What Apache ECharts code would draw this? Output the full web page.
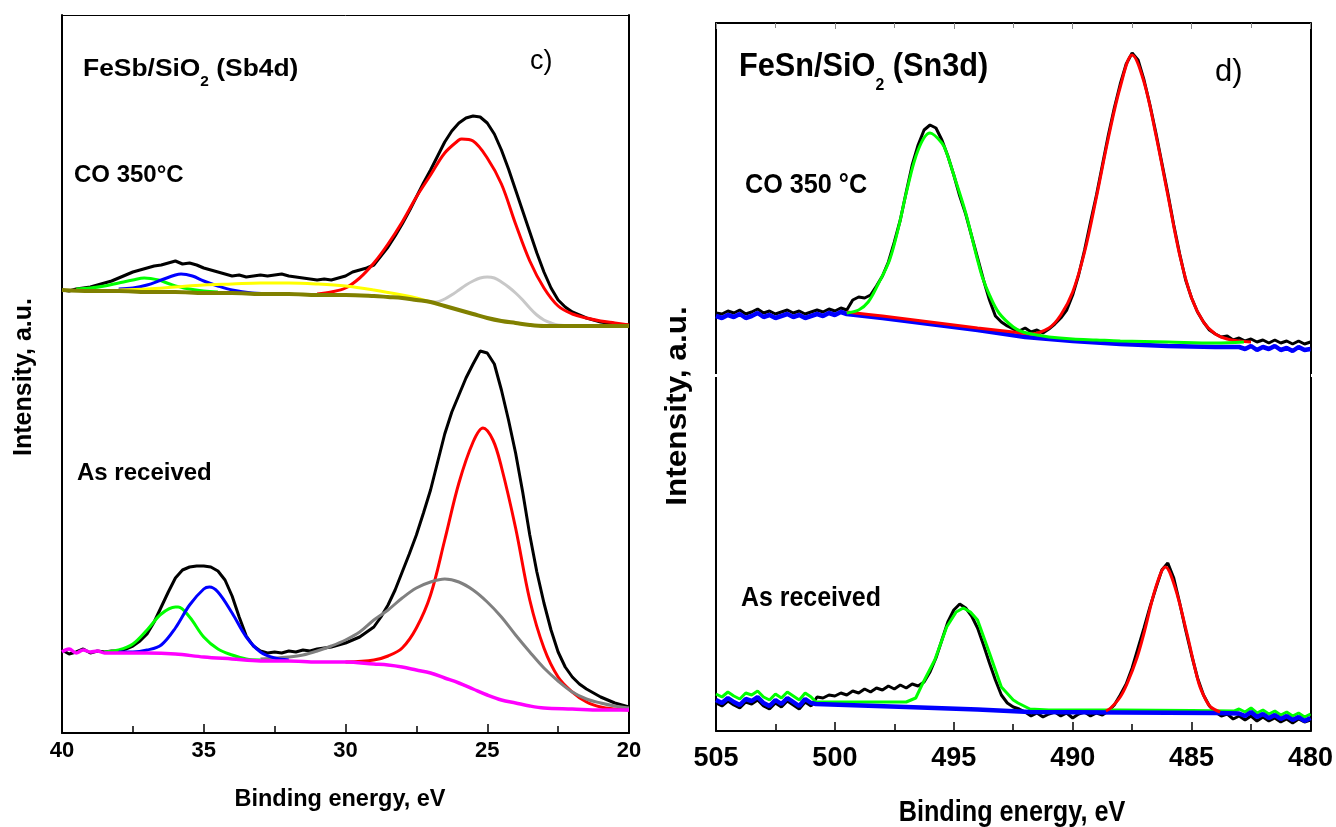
<!DOCTYPE html>
<html>
<head>
<meta charset="utf-8">
<script src="https://cdn.jsdelivr.net/npm/echarts@6/dist/echarts.min.js"></script>
<style>
html,body{margin:0;padding:0;background:#fff;}
#chart{width:1336px;height:827px;}
</style>
</head>
<body>
<div id="chart"></div>
<script>
// ---------------- Panel c) FeSb/SiO2 (Sb4d) ----------------
// [binding energy eV, intensity a.u.]
const sbTicks = [40, 35, 30, 25, 20];

// CO 350 °C
const sbCO_exp = [[40,443],[39.75,442],[39.5,444],[39.25,445],[39,446],[38.75,448],[38.5,450],[38.25,452],[38,455],[37.75,458],[37.5,461],[37.25,463],[37,465],[36.75,467],[36.5,468],[36.25,470],[36,472],[35.75,469],[35.5,470],[35.25,468],[35,465],[34.75,463],[34.5,461],[34.25,459],[34,457],[33.75,458],[33.5,456],[33.25,457],[33,458],[32.75,457],[32.5,458],[32.25,459],[32,457],[31.75,456],[31.5,455],[31.25,454],[31,453],[30.75,454],[30.5,453],[30.25,455],[30,457],[29.75,461],[29.5,463],[29.25,465],[29,468],[28.75,477],[28.5,486],[28.25,497],[28,509],[27.75,522],[27.5,536],[27.25,550],[27,563],[26.75,577],[26.5,591],[26.25,602],[26,610],[25.75,615],[25.5,617],[25.25,616],[25,610],[24.75,599],[24.5,583],[24.25,564],[24,543],[23.75,522],[23.5,501],[23.25,480],[23,461],[22.75,445],[22.5,433],[22.25,426],[22,421],[21.75,418],[21.5,415],[21.25,413],[21,411],[20.75,410],[20.5,409],[20.25,408],[20,408]];
const sbCO_red = [[31,439],[30.5,441],[30,445],[29.5,455],[29,470],[28.5,489],[28,511],[27.5,536],[27,558],[26.5,580],[26,593],[25.9,594],[25.5,592],[25,575],[24.5,549],[24,509],[23.5,472],[23,445],[22.5,427],[22,419],[21.5,415],[21,412],[20.5,410],[20,408]];
const sbCO_gray = [[27,431],[26.8,431],[26.5,434],[26.2,439],[26,443],[25.75,448],[25.5,452],[25.25,455],[25,456],[24.75,455],[24.5,451],[24.25,446],[24,440],[23.75,433],[23.5,425],[23.25,418],[23,413],[22.75,410],[22.5,408],[22,407]];
const sbCO_yellow = [[38,443],[37,444],[36,446],[35,448],[34,449],[33,450],[32,450],[31,449],[30,447],[29,443],[28,438],[27.5,435],[27,431]];
const sbCO_green = [[39.5,444],[39,445],[38.5,447],[38,450],[37.5,453],[37.1,455],[36.6,453],[36.2,449],[35.7,445],[35,442],[34.5,441]];
const sbCO_blue = [[38,444],[37.5,445],[37,448],[36.5,453],[36,458],[35.8,459],[35.4,457],[35,452],[34.5,447],[34,443],[33.3,440],[32.5,439]];
const sbCO_base = [[40,443],[39,442],[38,442],[37,441],[36,441],[35,440],[34,440],[33,439],[32,439],[31,438],[30,438],[29,437],[28.5,436],[28,435],[27.5,433],[27,431],[26.5,427],[26,423],[25.5,419],[25,415],[24.5,412],[24,410],[23.5,408],[23,407],[22,407],[21,407],[20,407]];

// As received
const sbAR_exp = [[40,83],[39.75,79],[39.5,81],[39.25,84],[39,80],[38.75,82],[38.5,81],[38.25,82],[38,82],[37.75,84],[37.5,87],[37.25,92],[37,99],[36.75,111],[36.5,126],[36.25,141],[36,155],[35.75,163],[35.5,166],[35.25,167],[35,167],[34.75,166],[34.5,162],[34.25,153],[34,137],[33.75,116],[33.5,97],[33.25,87],[33,82],[32.75,80],[32.5,81],[32.25,80],[32,82],[31.75,81],[31.5,83],[31.25,82],[31,84],[30.75,85],[30.5,86],[30.25,88],[30,90],[29.75,93],[29.5,96],[29.25,101],[29,106],[28.75,116],[28.5,128],[28.25,143],[28,161],[27.75,179],[27.5,198],[27.25,220],[27,243],[26.75,271],[26.5,299],[26.25,321],[26,338],[25.75,355],[25.5,369],[25.25,382],[25,380],[24.75,369],[24.5,343],[24.25,313],[24,280],[23.75,241],[23.5,198],[23.25,161],[23,130],[22.75,103],[22.5,81],[22.25,66],[22,56],[21.75,49],[21.5,44],[21.25,40],[21,36],[20.75,33],[20.5,30],[20.25,28],[20,26]];
const sbAR_red = [[30,71],[29,73],[28.5,77],[28,85],[27.5,105],[27,138],[26.5,193],[26,250],[25.5,291],[25.15,305],[24.8,293],[24.5,266],[24,205],[23.5,133],[23,85],[22.5,56],[22,41],[21.5,31],[21,26],[20.5,24],[20,23]];
const sbAR_gray = [[33,74],[32.5,75],[32,76],[31.5,78],[31,82],[30.5,87],[30,93],[29.5,101],[29,113],[28.5,123],[28,135],[27.5,145],[27,151],[26.5,154],[26,151],[25.5,143],[25,131],[24.5,116],[24,98],[23.5,81],[23,65],[22.5,52],[22,41],[21.5,34],[21,30],[20.5,27],[20,25]];
const sbAR_green = [[38.5,81],[38,83],[37.5,89],[37,103],[36.5,119],[36,126],[35.9,126],[35.5,116],[35,96],[34.5,84],[34,78],[33.5,74],[33,73]];
const sbAR_blue = [[38,81],[37.5,81],[37,83],[36.5,88],[36,105],[35.5,128],[35,144],[34.8,146],[34.5,141],[34,120],[33.5,96],[33,81],[32.5,75],[32,73]];
const sbAR_base = [[40,81],[39.75,84],[39.5,80],[39.25,83],[39,81],[38.75,82],[38.5,80],[38,80],[37,80],[36,79],[35,76],[34,74],[33,72],[32,72],[31,71],[30,71],[29,69],[28.5,68],[28,66],[27.5,63],[27,60],[26.5,55],[26,50],[25.5,44],[25,38],[24.5,33],[24,30],[23.5,27],[23,25],[22,24],[21,23],[20,23]];

// ---------------- Panel d) FeSn/SiO2 (Sn3d) ----------------
const snTicks = [505, 500, 495, 490, 485, 480];

// CO 350 °C
const snCO_exp = [[505,418],[504.75,417],[504.5,420],[504.25,418],[504,421],[503.75,417],[503.5,419],[503.25,422],[503,418],[502.75,420],[502.5,417],[502.25,419],[502,421],[501.75,418],[501.5,420],[501.25,417],[501,419],[500.75,421],[500.5,419],[500.25,422],[500,420],[499.75,423],[499.5,421],[499.25,431],[499,434],[498.75,433],[498.5,436],[498.25,445],[498,455],[497.75,469],[497.5,489],[497.25,511],[497,539],[496.75,566],[496.5,586],[496.25,601],[496,606],[495.75,603],[495.5,591],[495.25,575],[495,556],[494.75,535],[494.5,517],[494.25,495],[494,473],[493.75,451],[493.5,431],[493.25,415],[493,409],[492.75,405],[492.5,402],[492.25,400],[492,403],[491.75,399],[491.5,401],[491.25,398],[491,402],[490.75,407],[490.5,413],[490.25,421],[490,436],[489.75,456],[489.5,481],[489.25,509],[489,536],[488.75,566],[488.5,596],[488.25,623],[488,647],[487.75,667],[487.5,678],[487.25,671],[487,651],[486.75,626],[486.5,598],[486.25,568],[486,538],[485.75,506],[485.5,477],[485.25,451],[485,433],[484.75,419],[484.5,409],[484.25,401],[484,397],[483.75,394],[483.5,395],[483.25,391],[483,393],[482.75,390],[482.5,392],[482.25,389],[482,391],[481.75,388],[481.5,391],[481.25,388],[481,390],[480.75,387],[480.5,390],[480.25,387],[480,389]];
const snCO_red = [[499.5,419],[498,415],[496,409],[494,403],[492.5,399],[491.8,397],[491,403],[490.5,416],[490,439],[489.5,479],[489,534],[488.5,593],[488,644],[487.5,676],[487,649],[486.5,596],[486,536],[485.5,476],[485,433],[484.5,409],[484,397],[483.5,392],[483,390],[482.5,389]];
const snCO_green = [[499.5,418],[499,421],[498.6,429],[498.2,446],[497.7,471],[497.3,506],[497,538],[496.5,581],[496,598],[495.5,588],[495.3,578],[495,556],[494.5,518],[494,471],[493.8,454],[493.5,436],[493.1,418],[492.5,404],[492.1,399],[491.5,396],[491,394],[490,392],[489,391],[488,390],[486,389],[484,388],[482.8,389]];
const snCO_base = [[505,415],[504.75,413],[504.5,416],[504.25,414],[504,417],[503.75,413],[503.5,415],[503.25,418],[503,414],[502.75,416],[502.5,413],[502.25,415],[502,417],[501.75,414],[501.5,416],[501.25,413],[501,415],[500.75,417],[500.5,415],[500.25,418],[500,416],[499.75,419],[499.5,417],[498,413],[496,407],[494,401],[492,394],[490,390],[488,387],[486,385],[484,384],[483,384],[482.75,382],[482.5,385],[482.25,381],[482,384],[481.75,382],[481.5,385],[481.25,381],[481,383],[480.75,380],[480.5,384],[480.25,381],[480,382]];

// As received
const snAR_exp = [[505,28],[504.75,25],[504.5,30],[504.25,26],[504,23],[503.75,29],[503.5,27],[503.25,31],[503,25],[502.75,22],[502.5,28],[502.25,24],[502,30],[501.75,26],[501.5,22],[501.25,29],[501,25],[500.75,34],[500.5,33],[500.25,36],[500,35],[499.75,38],[499.5,36],[499.25,40],[499,38],[498.75,42],[498.5,39],[498.25,43],[498,41],[497.75,45],[497.5,42],[497.25,46],[497,43],[496.75,47],[496.5,45],[496.25,49],[496,59],[495.75,73],[495.5,91],[495.25,109],[495,121],[494.75,127],[494.5,123],[494.25,115],[494,103],[493.75,86],[493.5,68],[493.25,51],[493,36],[492.75,28],[492.5,24],[492.25,22],[492,19],[491.75,15],[491.5,18],[491.25,14],[491,17],[490.75,19],[490.5,15],[490.25,18],[490,13],[489.75,17],[489.5,19],[489.25,15],[489,18],[488.75,16],[488.5,20],[488.25,26],[488,36],[487.75,47],[487.5,63],[487.25,83],[487,103],[486.75,124],[486.5,143],[486.25,161],[486,168],[485.75,153],[485.5,128],[485.25,101],[485,76],[484.75,53],[484.5,36],[484.25,25],[484,19],[483.75,15],[483.5,17],[483.25,12],[483,15],[482.75,11],[482.5,15],[482.25,10],[482,14],[481.75,10],[481.5,13],[481.25,9],[481,12],[480.75,8],[480.5,12],[480.25,9],[480,11]];
const snAR_green = [[505,37],[504.75,34],[504.5,39],[504.25,35],[504,32],[503.75,38],[503.5,36],[503.25,40],[503,34],[502.75,31],[502.5,37],[502.25,33],[502,39],[501.75,35],[501.5,31],[501.25,38],[501,34],[500.8,29],[498,29],[497,29],[496.6,33],[496.3,48],[495.8,71],[495.3,104],[494.9,119],[494.6,123],[494.3,119],[494,111],[493.5,78],[493,44],[492.5,31],[492.3,28],[491.8,22],[491,21],[488,21],[485,20.5],[483.2,20],[483,22],[482.75,19],[482.5,23],[482.25,18],[482,21],[481.75,17],[481.5,20],[481.25,16],[481,19],[480.75,15],[480.5,18],[480.25,14],[480,17]];
const snAR_red = [[488.6,20],[488.4,23],[488,34],[487.7,48],[487.3,73],[487,98],[486.5,144],[486.1,164],[485.7,144],[485.2,98],[484.7,48],[484.4,31],[484.2,24],[483.8,19]];
const snAR_base = [[505,31],[504.75,28],[504.5,33],[504.25,29],[504,26],[503.75,32],[503.5,30],[503.25,34],[503,28],[502.75,25],[502.5,31],[502.25,27],[502,33],[501.75,29],[501.5,25],[501.25,32],[501,28],[500.8,27],[497,24],[494,21.5],[491.8,19],[488,18.5],[484,18],[483,17.5],[482.75,15],[482.5,19],[482.25,14],[482,17],[481.75,13],[481.5,16],[481.25,12],[481,15],[480.75,11],[480.5,14],[480.25,10],[480,13]];

// ---------------- chart ----------------
const FONT = '"Liberation Sans", Arial, sans-serif';

function line(name, data, color, width, xi, yi, smooth, z) {
  return {
    name, type: 'line', data, xAxisIndex: xi, yAxisIndex: yi,
    showSymbol: false, smooth: smooth ? 0.35 : false, z: z || 2,
    lineStyle: { color, width }, itemStyle: { color }, animation: false
  };
}

function xAxes(gi, min, max, labelSize, margin, topWidth, topTickColor) {
  return [
    {
      gridIndex: gi, type: 'value', inverse: true, min, max, interval: 5,
      axisLine: { show: true, onZero: false, lineStyle: { color: '#000', width: 2 } },
      axisTick: { show: true, inside: true, length: 9, lineStyle: { color: '#000', width: 1.5 } },
      minorTick: { show: true, splitNumber: 2, length: 7, lineStyle: { color: '#000', width: 1.5 } },
      axisLabel: { color: '#000', fontSize: labelSize, fontWeight: 'bold', fontFamily: FONT, margin },
      splitLine: { show: false }
    },
    {
      gridIndex: gi, type: 'value', inverse: true, min, max, interval: 5, position: 'top',
      axisLine: { show: true, onZero: false, lineStyle: { color: '#000', width: topWidth } },
      axisTick: { show: true, inside: true, length: 6, lineStyle: { color: topTickColor, width: 1 } },
      minorTick: { show: true, splitNumber: 2, length: 5, lineStyle: { color: topTickColor, width: 1 } },
      axisLabel: { show: false }, splitLine: { show: false }
    }
  ];
}
function yAxes(gi, max) {
  return [
    {
      gridIndex: gi, type: 'value', min: 0, max, position: 'left',
      axisLine: { show: true, onZero: false, lineStyle: { color: '#000', width: 2 } },
      axisTick: { show: false }, axisLabel: { show: false }, splitLine: { show: false }
    },
    {
      gridIndex: gi, type: 'value', min: 0, max, position: 'right',
      axisLine: { show: true, onZero: false, lineStyle: { color: '#000', width: 2 } },
      axisTick: { show: false }, axisLabel: { show: false }, splitLine: { show: false }
    }
  ];
}

function txt(x, y, text, size, weight, align, sx, rot) {
  return {
    type: 'text', x, y, z: 100, scaleX: sx || 1, rotation: rot || 0,
    style: { text, fill: '#000', fontSize: size, fontWeight: weight, fontFamily: FONT,
             textVerticalAlign: 'middle', textAlign: align || 'left' }
  };
}
function subTxt(x, y, a, b, size, subSize, shift, sx) {
  return {
    type: 'text', x, y, z: 100, scaleX: sx || 1,
    style: {
      text: '{a|' + a + '}{s|2}{a|' + b + '}',
      textVerticalAlign: 'middle',
      rich: {
        a: { fontSize: size, fontWeight: 'bold', fontFamily: FONT, fill: '#000' },
        s: { fontSize: subSize, fontWeight: 'bold', fontFamily: FONT, fill: '#000', padding: [shift, 0, 0, 0] }
      }
    }
  };
}

const chart = echarts.init(document.getElementById('chart'), null, { renderer: 'canvas' });
chart.setOption({
  backgroundColor: '#fff',
  animation: false,
  grid: [
    { left: 62, top: 15, width: 567, height: 718 },
    { left: 716, top: 23, width: 598, height: 708 }
  ],
  xAxis: [].concat(xAxes(0, 20, 40, 22, 7, 1, 'rgba(0,0,0,0)'), xAxes(1, 480, 505, 27, 14, 2, '#888')),
  yAxis: [].concat(yAxes(0, 718), yAxes(1, 708)),
  series: [
    // panel c, CO 350
    line('exp', sbCO_exp, '#000000', 3, 0, 0, false, 2),
    line('gray', sbCO_gray, '#c8c8c8', 3, 0, 0, true, 3),
    line('red', sbCO_red, '#ff0000', 3, 0, 0, true, 4),
    line('green', sbCO_green, '#00ff00', 3, 0, 0, true, 4),
    line('blue', sbCO_blue, '#0000ff', 3, 0, 0, true, 5),
    line('yellow', sbCO_yellow, '#ffff00', 3, 0, 0, true, 6),
    line('base', sbCO_base, '#808000', 4, 0, 0, true, 7),
    // panel c, as received
    line('exp2', sbAR_exp, '#000000', 3, 0, 0, false, 2),
    line('red2', sbAR_red, '#ff0000', 3, 0, 0, true, 3),
    line('gray2', sbAR_gray, '#808080', 3, 0, 0, true, 4),
    line('green2', sbAR_green, '#00ff00', 3, 0, 0, true, 4),
    line('blue2', sbAR_blue, '#0000ff', 3, 0, 0, true, 5),
    line('base2', sbAR_base, '#ff00ff', 3.5, 0, 0, true, 6),
    // panel d, CO 350
    line('exp3', snCO_exp, '#000000', 3, 2, 2, false, 2),
    line('base3', snCO_base, '#0000ff', 4.5, 2, 2, false, 3),
    line('red3', snCO_red, '#ff0000', 3, 2, 2, true, 4),
    line('green3', snCO_green, '#00ff00', 3, 2, 2, true, 5),
    // panel d, as received
    line('exp4', snAR_exp, '#000000', 3, 2, 2, false, 2),
    line('green4', snAR_green, '#00ff00', 3, 2, 2, false, 3),
    line('base4', snAR_base, '#0000ff', 4.5, 2, 2, false, 4),
    line('red4', snAR_red, '#ff0000', 3, 2, 2, true, 5)
  ],
  graphic: [
    subTxt(83, 69, 'FeSb/SiO', ' (Sb4d)', 24, 14, 26, 1.1),
    txt(530, 62, 'c)', 27, 'normal'),
    txt(74, 175, 'CO 350°C', 24, 'bold'),
    txt(77, 473, 'As received', 24, 'bold'),
    txt(340, 800, 'Binding energy, eV', 23.5, 'bold', 'center'),
    txt(24, 377, 'Intensity, a.u.', 25, 'bold', 'center', 1, Math.PI / 2),
    subTxt(739, 67, 'FeSn/SiO', ' (Sn3d)', 33, 17, 36, 0.93),
    txt(1215, 72, 'd)', 31, 'normal'),
    txt(745, 185, 'CO 350 °C', 28, 'bold', 'left', 0.9),
    txt(741, 598, 'As received', 28, 'bold', 'left', 0.89),
    txt(1012, 813, 'Binding energy, eV', 29, 'bold', 'center', 0.87),
    txt(678, 406, 'Intensity, a.u.', 29, 'bold', 'center', 1.09, Math.PI / 2),
    { type: 'rect', z: 200, shape: { x: 713, y: 374, width: 6, height: 3 }, style: { fill: '#fff' } },
    { type: 'rect', z: 200, shape: { x: 1311, y: 374, width: 6, height: 3 }, style: { fill: '#fff' } }
  ]
});
</script>
</body>
</html>
